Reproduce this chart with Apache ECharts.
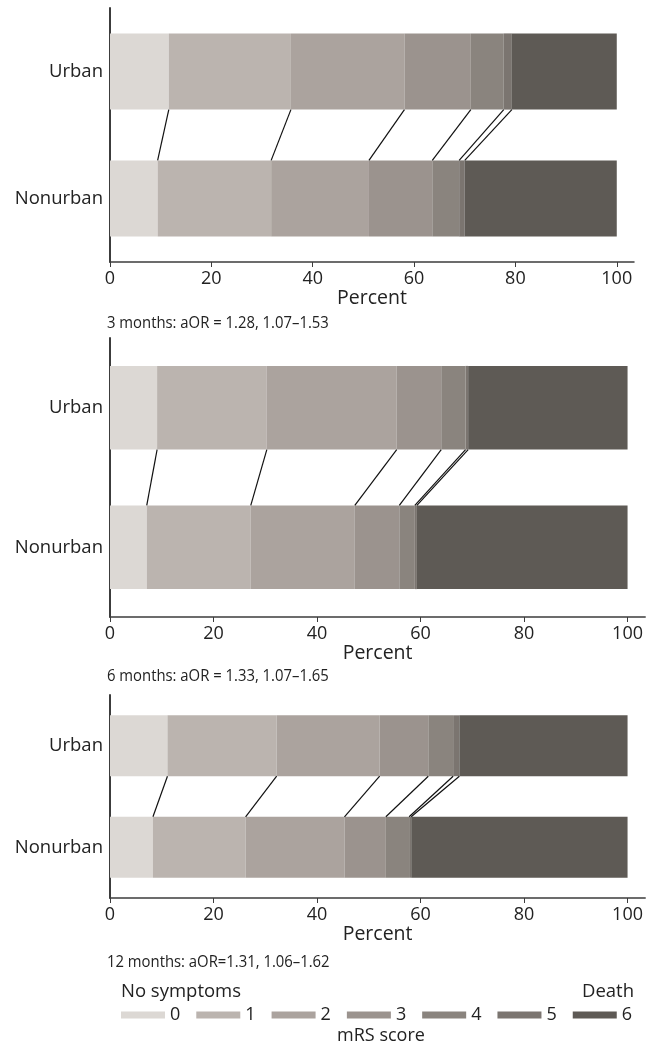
<!DOCTYPE html>
<html lang="en">
<head>
    <meta charset="UTF-8">
    <title>mRS by rurality</title>
    <script src="https://cdn.jsdelivr.net/npm/echarts@6/dist/echarts.min.js"></script>
    <style>
        html, body { margin: 0; padding: 0; background: #fff; }
        #main { width: 646px; height: 1048px; }
    </style>
</head>
<body>
    <div id="main"></div>
    <script>
        // data (percent per mRS score, 0..6)
        var groups = ['Urban', 'Nonurban'];
        var mrsLevels = ['0', '1', '2', '3', '4', '5', '6'];
        var percentTicks = [0, 20, 40, 60, 80, 100];

        var urban3 = [11.6, 24.1, 22.4, 13.1, 6.5, 1.6, 20.7];
        var nonurban3 = [9.4, 22.4, 19.3, 12.5, 5.3, 1.1, 30.0];
        var urban6 = [9.1, 21.2, 25.1, 8.6, 4.7, 0.5, 30.8];
        var nonurban6 = [7.1, 20.1, 20.1, 8.6, 3.0, 0.4, 40.7];
        var urban12 = [11.1, 21.1, 19.9, 9.4, 4.8, 1.2, 32.5];
        var nonurban12 = [8.3, 17.9, 19.1, 8.0, 4.5, 0.4, 41.8];

        var captions = [
            '3 months: aOR = 1.28, 1.07\u20131.53',
            '6 months: aOR = 1.33, 1.07\u20131.65',
            '12 months: aOR=1.31, 1.06\u20131.62'
        ];

        var panels = [
            { urban: urban3, nonurban: nonurban3 },
            { urban: urban6, nonurban: nonurban6 },
            { urban: urban12, nonurban: nonurban12 }
        ];

        var colors = ['#dcd8d4', '#bbb4af', '#aba39e', '#9b938e', '#8a847e', '#7b7570', '#5e5a55'];
        var font = '"Open Sans", "Noto Sans", sans-serif';
        var axisColor = '#3c3c3c';
        var textColor = '#222';

        // layout of the three panels
        var grids = [
            { left: 110, top: 8, width: 524, height: 254 },
            { left: 110, top: 338, width: 536, height: 279 },
            { left: 110, top: 695, width: 540, height: 203 }
        ];
        var captionY = [323, 676, 962];
        var barFrac = 0.6;

        var xAxes = [], yAxes = [], series = [];

        var cumulative = function(arr) {
            var res = [], s = 0;
            for (var i = 0; i < arr.length - 1; i++) {
                s += arr[i];
                res.push(Math.round(s * 10) / 10);
            }
            return res;
        };

        panels.forEach(function(p, i) {
            xAxes.push({
                gridIndex: i,
                type: 'value',
                min: 0,
                max: 103.4,
                name: 'Percent',
                nameLocation: 'middle',
                nameGap: 25,
                nameTextStyle: { fontSize: 19.5, color: textColor, fontFamily: font },
                axisLine: { show: true, onZero: false, lineStyle: { color: axisColor, width: 1.5 } },
                axisTick: { show: true, customValues: percentTicks, length: 5, lineStyle: { color: axisColor } },
                axisLabel: { customValues: percentTicks, fontSize: 18, color: textColor, fontFamily: font, margin: 8 },
                splitLine: { show: false }
            });
            yAxes.push({
                gridIndex: i,
                type: 'category',
                data: groups,
                inverse: true,
                axisLine: { show: true, lineStyle: { color: axisColor, width: 2 } },
                axisTick: { show: false },
                axisLabel: { fontSize: 18.5, color: textColor, fontFamily: font, margin: 7 }
            });
            // hidden helper axis so connector ends sit on the bar edges
            yAxes.push({
                gridIndex: i,
                type: 'value',
                min: 0,
                max: 4,
                inverse: true,
                show: false
            });

            mrsLevels.forEach(function(lvl, k) {
                series.push({
                    name: lvl,
                    type: 'bar',
                    stack: 'p' + i,
                    xAxisIndex: i,
                    yAxisIndex: i * 2,
                    barWidth: (barFrac * 100) + '%',
                    itemStyle: { color: colors[k] },
                    data: [p.urban[k], p.nonurban[k]]
                });
            });

            var cu = cumulative(p.urban), cn = cumulative(p.nonurban);
            for (var b = 0; b < cu.length; b++) {
                series.push({
                    type: 'line',
                    xAxisIndex: i,
                    yAxisIndex: i * 2 + 1,
                    symbol: 'none',
                    silent: true,
                    lineStyle: { color: '#111', width: 1.2 },
                    data: [[cu[b], 1 + barFrac], [cn[b], 3 - barFrac]]
                });
            }
        });

        var textEl = function(str, x, y, size, align, sx) {
            return {
                type: 'text',
                x: x,
                y: y,
                scaleX: sx || 1,
                style: {
                    text: str,
                    fill: textColor,
                    font: size + 'px ' + font,
                    textAlign: align || 'left',
                    textVerticalAlign: 'middle'
                }
            };
        };

        var graphics = captions.map(function(c, i) {
            return textEl(c, 107, captionY[i], 16.5, 'left', 0.9);
        });
        graphics.push(textEl('No symptoms', 121, 992, 18.5));
        graphics.push(textEl('Death', 634, 992, 18.5, 'right'));
        graphics.push(textEl('mRS score', 381, 1036, 18, 'center'));

        var option = {
            backgroundColor: '#fff',
            animation: false,
            grid: grids,
            xAxis: xAxes,
            yAxis: yAxes,
            legend: {
                data: mrsLevels,
                left: 121,
                top: 1006,
                padding: 0,
                icon: 'rect',
                itemWidth: 44,
                itemHeight: 7,
                itemGap: 16,
                textStyle: { fontSize: 18, color: textColor, fontFamily: font }
            },
            graphic: graphics,
            series: series
        };

        var myChart = echarts.init(document.getElementById('main'));
        myChart.setOption(option);
    </script>
</body>
</html>
